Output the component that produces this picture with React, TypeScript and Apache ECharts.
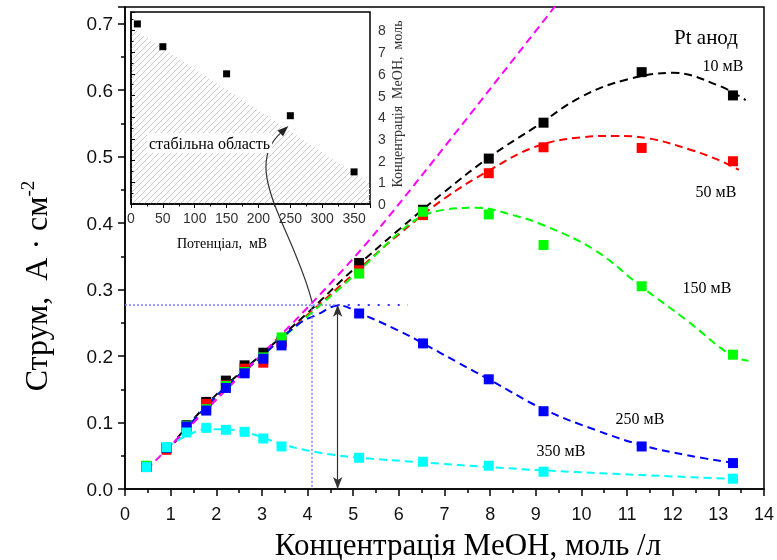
import React, { useEffect, useRef } from 'react';
import * as echarts from 'echarts';

// ---- Main chart data (MeOH concentration, mol/L vs current density, A/cm^2)
const concentrations = [0.47, 0.91, 1.35, 1.78, 2.21, 2.62, 3.03, 3.43, 5.13, 6.53, 7.97, 9.17, 11.32, 13.32];
const current10 = [0.034, 0.062, 0.096, 0.131, 0.163, 0.186, 0.205, 0.222, 0.340, 0.420, 0.497, 0.551, 0.627, 0.592];
const current50 = [0.034, 0.059, 0.094, 0.128, 0.156, 0.181, 0.190, 0.220, 0.329, 0.412, 0.475, 0.514, 0.513, 0.493];
const current150 = [0.035, 0.062, 0.095, 0.120, 0.155, 0.176, 0.198, 0.228, 0.324, 0.417, 0.413, 0.367, 0.305, 0.202];
const current250 = [0.033, 0.062, 0.094, 0.118, 0.152, 0.174, 0.196, 0.216, 0.264, 0.219, 0.165, 0.117, 0.064, 0.039];
const current350 = [0.033, 0.063, 0.085, 0.092, 0.089, 0.086, 0.076, 0.064, 0.047, 0.041, 0.035, 0.026, null, 0.0155];

// fitted (dashed) curves
const fit10 = [[1.15, 0.077], [2, 0.142], [3, 0.203], [4, 0.265], [5, 0.33], [6, 0.39], [7, 0.447], [8, 0.5], [9, 0.545], [10, 0.59], [11, 0.616], [12, 0.626], [13, 0.607], [13.6, 0.585]];
const fit50 = [[0.9, 0.055], [2, 0.138], [3, 0.2], [4, 0.262], [5, 0.323], [6, 0.383], [7, 0.437], [8, 0.48], [9, 0.515], [10, 0.529], [10.7, 0.531], [11.5, 0.527], [12.4, 0.51], [13, 0.495], [13.45, 0.48]];
const fit150 = [[0.9, 0.055], [2, 0.14], [3, 0.2], [4, 0.26], [5, 0.32], [6, 0.385], [6.5, 0.41], [7, 0.42], [7.7, 0.423], [8.5, 0.412], [9.2, 0.396], [10.3, 0.359], [11.3, 0.305], [12.3, 0.254], [13.3, 0.2], [13.66, 0.193]];
const fit250 = [[0.9, 0.055], [2, 0.14], [3, 0.2], [3.8, 0.248], [4.2, 0.262], [4.7, 0.276], [5.13, 0.265], [6, 0.238], [6.53, 0.219], [7.3, 0.19], [8, 0.164], [9.17, 0.12], [10.3, 0.089], [11.32, 0.066], [12.3, 0.051], [13.45, 0.038]];
const fit350 = [[0.9, 0.062], [1.35, 0.08], [1.8, 0.09], [2.2, 0.09], [2.6, 0.086], [3.0, 0.078], [3.4, 0.068], [4.0, 0.058], [4.6, 0.051], [5.13, 0.047], [6.53, 0.04], [7.97, 0.033], [9.17, 0.028], [11.3, 0.021], [13.4, 0.015]];
const fitLinear = [[0.47, 0.029], [2.07, 0.139], [4.1, 0.28], [5.53, 0.389], [8.84, 0.675], [9.5, 0.733]];

// annotation values
const stabilityConc = 4.1;
const stabilityCurrent = 0.277;
const peakConc250 = 4.66;
const dottedEnd = 6.2;

// ---- Inset data (potential, mV vs critical concentration, mol)
const potentials = [10, 50, 150, 250, 350];
const criticalConc = [8.3, 7.25, 6.0, 4.07, 1.48];
const stableBoundary = [[0, 8.15], [375, 0.95]];

const seriesNames = ['10 мВ', '50 мВ', '150 мВ', '250 мВ', '350 мВ'];
const seriesColors = ['#000000', '#ff0000', '#00ff00', '#0000ff', '#00ffff'];

const SERIF = 'Liberation Serif';
const SANS = 'Liberation Sans';

export default function App() {
  const ref = useRef<HTMLDivElement>(null);
  useEffect(() => {
    const chart = echarts.init(ref.current!, null, { renderer: 'svg' });

    const canvas = document.createElement('canvas');
    canvas.width = 6;
    canvas.height = 6;
    const ctx = canvas.getContext('2d')!;
    ctx.strokeStyle = '#cdcdcd';
    ctx.lineWidth = 1;
    ctx.beginPath();
    ctx.moveTo(-1, 7); ctx.lineTo(7, -1);
    ctx.moveTo(-1, 1); ctx.lineTo(1, -1);
    ctx.moveTo(5, 7); ctx.lineTo(7, 5);
    ctx.stroke();

    const allCurrents = [current10, current50, current150, current250, current350];
    const fits = [fit10, fit50, fit150, fit250, fit350];

    const fitSeries = fits.map((f, i) => ({
      type: 'line', xAxisIndex: 0, yAxisIndex: 0, data: f, smooth: 0.4, symbol: 'none', z: 2,
      lineStyle: { color: seriesColors[i], width: 2, type: [8, 5] },
    }));
    const scatterSeries = allCurrents.map((vals, i) => ({
      type: 'scatter', name: seriesNames[i], xAxisIndex: 0, yAxisIndex: 0, symbol: 'rect', symbolSize: 10, z: 3,
      itemStyle: { color: seriesColors[i], opacity: 1 },
      data: concentrations.map((x, j) => [x, vals[j]]).filter((d) => d[1] != null),
    }));

    const mainAxisLine = { lineStyle: { color: '#000', width: 1.5 } };

    chart.setOption({
      animation: false,
      grid: [
        { left: 125, right: 11, top: 7, bottom: 71, show: true, borderColor: '#000', borderWidth: 1.5, backgroundColor: 'transparent' },
        { left: 131, top: 12, width: 239, height: 192, show: true, borderColor: '#000', borderWidth: 1.5, backgroundColor: '#fff', z: 5 },
      ],
      xAxis: [
        {
          type: 'value', gridIndex: 0, min: 0, max: 14, interval: 1,
          axisLine: mainAxisLine,
          axisTick: { length: 7, lineStyle: { color: '#000', width: 1.5 } },
          minorTick: { show: true, splitNumber: 2, length: 4, lineStyle: { color: '#000', width: 1.5 } },
          splitLine: { show: false },
          axisLabel: { fontFamily: SANS, fontSize: 18, color: '#111', margin: 16 },
        },
        {
          type: 'value', gridIndex: 1, min: 0, max: 375, interval: 50, z: 6,
          axisLine: { lineStyle: { color: '#000', width: 1.5 } },
          axisTick: { length: 4, lineStyle: { color: '#000', width: 1 } },
          minorTick: { show: true, splitNumber: 2, length: 2.5, lineStyle: { color: '#000', width: 1 } },
          splitLine: { show: false },
          axisLabel: { fontFamily: SANS, fontSize: 14, color: '#333', margin: 7, showMaxLabel: false },
        },
      ],
      yAxis: [
        {
          type: 'value', gridIndex: 0, min: 0, max: 0.725, interval: 0.1,
          axisLine: mainAxisLine,
          axisTick: { length: 7, lineStyle: { color: '#000', width: 1.5 } },
          minorTick: { show: true, splitNumber: 2, length: 4, lineStyle: { color: '#000', width: 1.5 } },
          splitLine: { show: false },
          axisLabel: { fontFamily: SANS, fontSize: 19, color: '#111', margin: 12, showMaxLabel: false, formatter: (v: number) => v.toFixed(1) },
        },
        {
          type: 'value', gridIndex: 1, position: 'right', min: 0, max: 8.85, interval: 1, z: 6,
          axisLine: { show: true, lineStyle: { color: '#000', width: 1.5 } },
          axisTick: { length: 4, lineStyle: { color: '#000', width: 1 } },
          minorTick: { show: true, splitNumber: 2, length: 2.5, lineStyle: { color: '#000', width: 1 } },
          splitLine: { show: false },
          axisLabel: { fontFamily: SANS, fontSize: 14, color: '#333', margin: 8, showMaxLabel: false },
        },
      ],
      series: [
        ...fitSeries,
        {
          type: 'line', xAxisIndex: 0, yAxisIndex: 0, data: fitLinear, smooth: 0.3, symbol: 'none', z: 2,
          lineStyle: { color: '#ff00ff', width: 2, type: [8, 5] },
        },
        ...scatterSeries,
        {
          type: 'line', xAxisIndex: 0, yAxisIndex: 0, data: [], z: 4,
          markLine: {
            silent: true, symbol: 'none', label: { show: false },
            data: [
              [{ coord: [0, stabilityCurrent], lineStyle: { color: '#8080ff', width: 1.5, type: [2, 2] } }, { coord: [peakConc250, stabilityCurrent] }],
              [{ coord: [peakConc250, stabilityCurrent], lineStyle: { color: '#3030ff', width: 2, type: [2, 8] } }, { coord: [dottedEnd, stabilityCurrent] }],
              [{ coord: [stabilityConc, stabilityCurrent], lineStyle: { color: '#8080ff', width: 1.5, type: [2, 2] } }, { coord: [stabilityConc, 0] }],
            ],
          },
        },
        {
          type: 'line', xAxisIndex: 0, yAxisIndex: 0, data: [], z: 4,
          markLine: {
            silent: true, symbol: ['arrow', 'arrow'], symbolSize: [7, 12], label: { show: false },
            lineStyle: { color: '#333', width: 1.2, type: 'solid' },
            data: [[{ coord: [peakConc250, 0] }, { coord: [peakConc250, stabilityCurrent] }]],
          },
        },
        {
          type: 'line', xAxisIndex: 1, yAxisIndex: 1, data: stableBoundary, symbol: 'none', z: 6,
          lineStyle: { width: 0, opacity: 0 },
          areaStyle: { color: { image: canvas, repeat: 'repeat' } as any, opacity: 1 },
        },
        {
          type: 'scatter', xAxisIndex: 1, yAxisIndex: 1, symbol: 'rect', symbolSize: 7, z: 7,
          itemStyle: { color: '#000', opacity: 1 },
          data: potentials.map((p, i) => [p, criticalConc[i]]),
        },
      ],
    });

    // annotations positioned via the axes
    const start = chart.convertToPixel({ gridIndex: 0 }, [stabilityConc, stabilityCurrent + 0.004]) as number[];
    const end = chart.convertToPixel({ gridIndex: 1 }, [247, 3.6]) as number[];
    const c1 = [start[0] - 18, start[1] - 72];
    const c2 = [end[0] - 48, end[1] + 44];
    const dx = end[0] - c2[0];
    const dy = end[1] - c2[1];
    const len = Math.hypot(dx, dy);
    const ux = dx / len, uy = dy / len;
    const ah = 11, aw = 4;
    const bx = end[0] - ux * ah, by = end[1] - uy * ah;

    const label = (text: string, x: number, y: number, size = 16) => ({
      type: 'text', x, y, z: 20,
      style: { text, fontFamily: SERIF, fontSize: size, fill: '#000', align: 'center', verticalAlign: 'middle' },
    });

    chart.setOption({
      graphic: [
        {
          type: 'bezierCurve', z: 20,
          shape: { x1: start[0], y1: start[1], cpx1: c1[0], cpy1: c1[1], cpx2: c2[0], cpy2: c2[1], x2: bx, y2: by },
          style: { stroke: '#333', lineWidth: 1.2, fill: 'none' },
        },
        {
          type: 'polygon', z: 20,
          shape: { points: [[end[0], end[1]], [bx - uy * aw, by + ux * aw], [bx + uy * aw, by - ux * aw]] },
          style: { fill: '#222' },
        },
        {
          type: 'text', x: 147, y: 143, z: 20,
          style: { text: 'стабільна область', fontFamily: SERIF, fontSize: 16, fill: '#000', align: 'left', verticalAlign: 'middle', backgroundColor: '#fff', padding: [2, 2] },
        },
        label('Потенціал,  мВ', 222, 243, 14),
        {
          type: 'text', x: 397, y: 104, rotation: Math.PI / 2, z: 20,
          style: { text: 'Концентрація  MeOH,  моль', fontFamily: SERIF, fontSize: 14, fill: '#333', align: 'center', verticalAlign: 'middle' },
        },
        label('Pt анод', 706, 37, 21),
        label('10 мВ', 723, 65),
        label('50 мВ', 716, 191),
        label('150 мВ', 707, 287),
        label('250 мВ', 640, 418),
        label('350 мВ', 561, 450),
        {
          type: 'text', x: 468, y: 544, z: 20,
          style: { text: 'Концентрація MeOH, моль /л', fontFamily: SERIF, fontSize: 31, fill: '#000', align: 'center', verticalAlign: 'middle' },
        },
        {
          type: 'text', x: 36, y: 286, rotation: Math.PI / 2, z: 20,
          style: {
            text: '{a|Струм,  А · см}{b|-2}', align: 'center', verticalAlign: 'middle',
            rich: {
              a: { fontFamily: SERIF, fontSize: 32, fill: '#000', lineHeight: 36 },
              b: { fontFamily: SERIF, fontSize: 19, fill: '#000', verticalAlign: 'top', lineHeight: 36 },
            },
          },
        },
      ],
    });

    return () => chart.dispose();
  }, []);
  return <div ref={ref} style={{ position: 'fixed', left: 0, top: 0, width: 777, height: 560 }} />;
}
